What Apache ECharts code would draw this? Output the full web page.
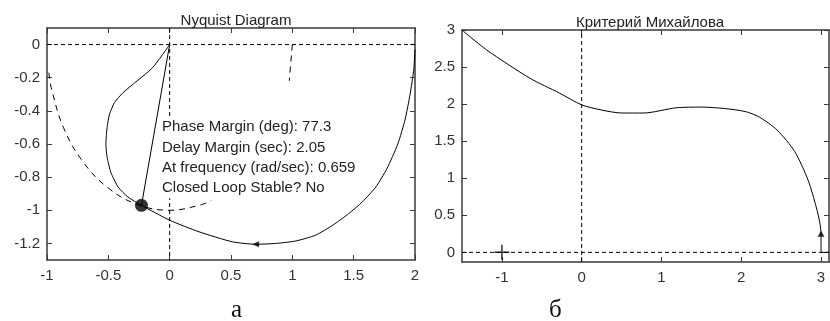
<!DOCTYPE html>
<html>
<head>
<meta charset="utf-8">
<script src="https://cdn.jsdelivr.net/npm/echarts@6/dist/echarts.min.js"></script>
<style>html,body{margin:0;padding:0;background:#fff;}#c{width:830px;height:321px;}</style>
</head>
<body>
<div id="c"></div>
<script>
// ---- Left chart: Nyquist diagram ----
var nyqX = [2.0, 1.99, 1.96, 1.92, 1.86, 1.77, 1.68, 1.57, 1.46, 1.33, 1.19, 1.03, 0.87, 0.70, 0.51, 0.24, 0.0, -0.23, -0.34, -0.42, -0.48, -0.51, -0.52, -0.51, -0.49, -0.45, -0.38, -0.30, -0.14, 0.0];
var nyqY = [-0.03, -0.15, -0.30, -0.45, -0.60, -0.75, -0.86, -0.95, -1.02, -1.09, -1.15, -1.185, -1.20, -1.205, -1.19, -1.13, -1.06, -0.97, -0.92, -0.86, -0.77, -0.68, -0.60, -0.50, -0.42, -0.35, -0.29, -0.24, -0.14, 0.0];
var pmLineX = [0.0, -0.23];
var pmLineY = [0.0, -0.97];
var circX = [-0.985, -0.966, -0.866, -0.707, -0.5, -0.259, 0.0, 0.259, 0.34, null, 1.0, 0.975];
var circY = [-0.17, -0.259, -0.5, -0.707, -0.866, -0.966, -1.0, -0.966, -0.94, null, 0.0, -0.22];
var pmPoint = [-0.23, -0.97];
var nyqArrow = [0.70, -1.205];
var nyqXTicks = [-1, -0.5, 0, 0.5, 1, 1.5, 2];
var nyqYTicks = [0, -0.2, -0.4, -0.6, -0.8, -1, -1.2];
var nyqText = ['Phase Margin (deg): 77.3', 'Delay Margin (sec): 2.05', 'At frequency (rad/sec): 0.659', 'Closed Loop Stable? No'];

// ---- Right chart: Mikhailov criterion ----
var mikhX = [-1.5, -1.19, -0.65, -0.28, 0.0, 0.25, 0.5, 0.78, 1.18, 1.5, 1.8, 2.05, 2.22, 2.45, 2.67, 2.84, 2.94, 2.985, 3.0, 3.0, 3.1];
var mikhY = [3.0, 2.73, 2.35, 2.15, 1.99, 1.92, 1.88, 1.88, 1.95, 1.96, 1.94, 1.90, 1.83, 1.65, 1.36, 0.97, 0.61, 0.40, 0.25, 0.0, 0.0];
var mikhArrow = [3.0, 0.25];
var mikhCross = [-1, 0];
var mikhXTicks = [-1, 0, 1, 2, 3];
var mikhYTicks = [0, 0.5, 1, 1.5, 2, 2.5, 3];
var mikhLabel = 'n = 6';
var mikhLabelPos = [0.58, 1.54];

function zip(xs, ys) { return xs.map(function (x, i) { return x === null ? [null, null] : [x, ys[i]]; }); }

var FONT = "'Liberation Sans', Arial, sans-serif";
var axisColor = '#3a3a3a';
function xAx(grid, min, max, ticks, pos) {
  return {
    type: 'value', gridIndex: grid, min: min, max: max, position: pos,
    axisLine: { show: true, onZero: false, lineStyle: { color: axisColor, width: 1.5 } },
    axisTick: { show: true, inside: true, length: 5, customValues: ticks, lineStyle: { color: axisColor, width: 1 } },
    axisLabel: { show: pos === 'bottom', customValues: ticks, margin: 8, fontSize: 15, color: '#333', fontFamily: FONT },
    splitLine: { show: false }
  };
}
function yAx(grid, min, max, ticks, pos) {
  return {
    type: 'value', gridIndex: grid, min: min, max: max, position: pos,
    axisLine: { show: true, onZero: false, lineStyle: { color: axisColor, width: 1.5 } },
    axisTick: { show: true, inside: true, length: 5, customValues: ticks, lineStyle: { color: axisColor, width: 1 } },
    axisLabel: { show: pos === 'left', customValues: ticks, margin: 7, fontSize: 15, color: '#333', fontFamily: FONT },
    splitLine: { show: false }
  };
}
var dash = { color: '#000', width: 1, type: [4, 3] };
var solid = { color: '#000', width: 1 };

var option = {
  animation: false,
  backgroundColor: '#fff',
  title: [
    { text: 'Nyquist Diagram', left: 231, top: 8, textAlign: 'center', textStyle: { fontSize: 15, fontWeight: 'normal', color: '#222', fontFamily: FONT } },
    { text: 'Критерий Михайлова', left: 645, top: 10, textAlign: 'center', textStyle: { fontSize: 15, fontWeight: 'normal', color: '#222', fontFamily: FONT } }
  ],
  grid: [
    { left: 47, top: 28, width: 368, height: 232 },
    { left: 462, top: 30, width: 367, height: 232 }
  ],
  xAxis: [
    xAx(0, -1, 2, nyqXTicks, 'bottom'), xAx(0, -1, 2, nyqXTicks, 'top'),
    xAx(1, -1.5, 3.1, mikhXTicks, 'bottom'), xAx(1, -1.5, 3.1, mikhXTicks, 'top')
  ],
  yAxis: [
    yAx(0, -1.3, 0.1, nyqYTicks, 'left'), yAx(0, -1.3, 0.1, nyqYTicks, 'right'),
    yAx(1, -0.13, 3, mikhYTicks, 'left'), yAx(1, -0.13, 3, mikhYTicks, 'right')
  ],
  series: [
    { type: 'line', xAxisIndex: 0, yAxisIndex: 0, data: [[-1, 0], [2, 0]], symbol: 'none', lineStyle: dash, silent: true },
    { type: 'line', xAxisIndex: 0, yAxisIndex: 0, data: [[0, 0.1], [0, -1.3]], symbol: 'none', lineStyle: dash, silent: true },
    { type: 'line', xAxisIndex: 0, yAxisIndex: 0, data: zip(circX, circY), symbol: 'none', smooth: 0.4, connectNulls: false, lineStyle: { color: '#000', width: 1, type: [6, 5] } },
    { type: 'line', xAxisIndex: 0, yAxisIndex: 0, data: zip(nyqX, nyqY), symbol: 'none', smooth: 0.2, lineStyle: solid },
    { type: 'line', xAxisIndex: 0, yAxisIndex: 0, data: zip(pmLineX, pmLineY), symbol: 'none', lineStyle: solid },
    { type: 'scatter', xAxisIndex: 0, yAxisIndex: 0, data: [pmPoint], symbol: 'circle', symbolSize: 13, itemStyle: { color: '#000' } },
    { type: 'scatter', xAxisIndex: 0, yAxisIndex: 0, data: [nyqArrow], symbol: 'triangle', symbolSize: [6, 7], symbolRotate: 90, itemStyle: { color: '#000' } },
    { type: 'line', xAxisIndex: 2, yAxisIndex: 2, data: [[-1.5, 0], [3.1, 0]], symbol: 'none', lineStyle: dash, silent: true },
    { type: 'line', xAxisIndex: 2, yAxisIndex: 2, data: [[0, -0.13], [0, 3]], symbol: 'none', lineStyle: dash, silent: true },
    { type: 'line', xAxisIndex: 2, yAxisIndex: 2, data: zip(mikhX, mikhY), symbol: 'none', smooth: 0.25, lineStyle: solid },
    { type: 'scatter', xAxisIndex: 2, yAxisIndex: 2, data: [mikhArrow], symbol: 'triangle', symbolSize: [7, 6], itemStyle: { color: '#000' } },
    { type: 'scatter', xAxisIndex: 2, yAxisIndex: 2, data: [mikhCross], symbol: 'path://M4.5,0H5.5V4.5H10V5.5H5.5V10H4.5V5.5H0V4.5H4.5Z', symbolSize: 15, itemStyle: { color: '#000' } },
    { type: 'scatter', xAxisIndex: 2, yAxisIndex: 2, data: [mikhLabelPos], symbol: 'none', label: { show: true, position: 'inside', formatter: mikhLabel, fontSize: 17, color: '#111', fontFamily: FONT } }
  ],
  graphic: [
    { type: 'text', left: 160, top: 117, z: 100, style: { text: nyqText.join('\n'), fontSize: 15, lineHeight: 20.3, fill: '#222', fontFamily: FONT, backgroundColor: '#fff', padding: [0, 4, 0, 2] } },
    { type: 'text', left: 231, top: 298, z: 100, style: { text: 'а', fontSize: 25, fill: '#111', fontFamily: "'Liberation Serif', 'Times New Roman', serif" } },
    { type: 'text', left: 549, top: 298, z: 100, style: { text: 'б', fontSize: 25, fill: '#111', fontFamily: "'Liberation Serif', 'Times New Roman', serif" } }
  ]
};
var chart = echarts.init(document.getElementById('c'), null, { renderer: 'canvas' });
chart.setOption(option);
</script>
</body>
</html>
